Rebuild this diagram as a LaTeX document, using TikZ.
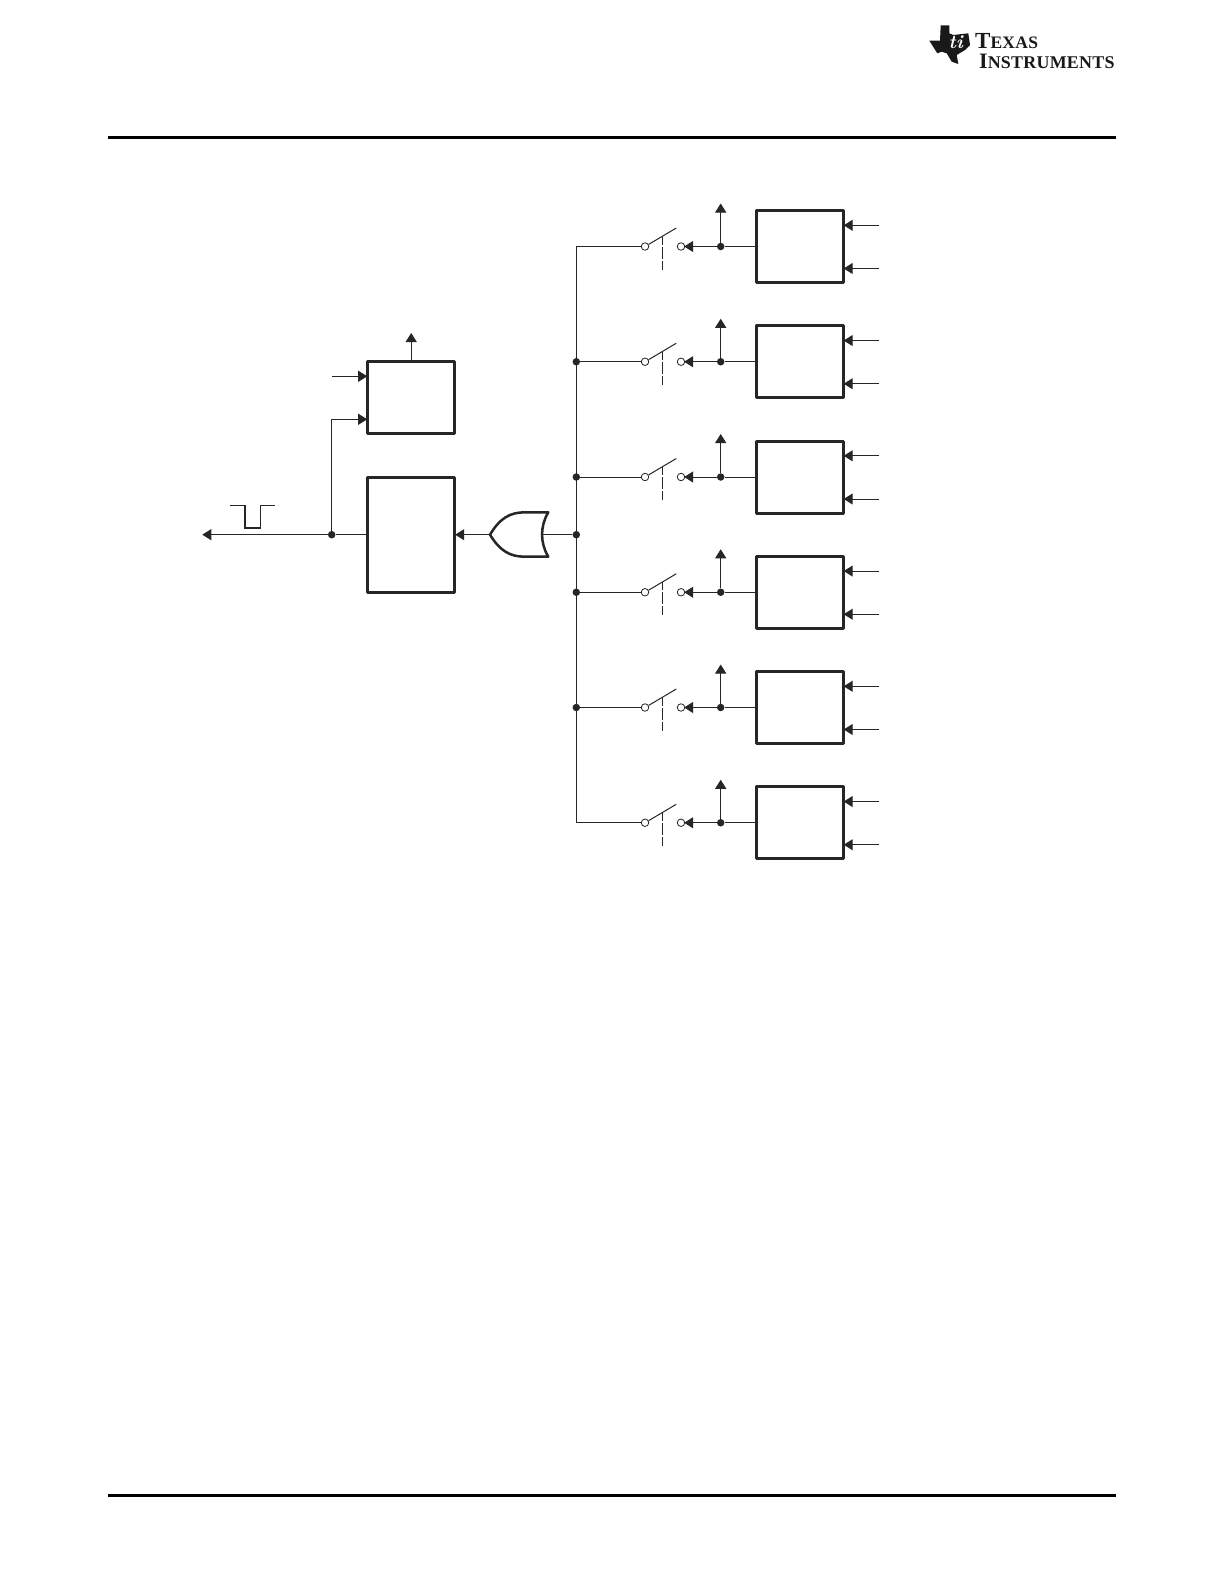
\documentclass[tikz,border=0pt]{standalone}
\usepackage{fontspec}
\newfontfamily\logofont[LetterSpace=1.5]{Liberation Serif}
\usetikzlibrary{arrows.meta}
\tikzset{
	blockbox/.style={draw=black!85,line width=3pt,line join=round,minimum width=87pt,fill=white},
	sigline/.style={draw=black!85,line width=1pt},
	sigarrow/.style={sigline,-{Triangle[length=9pt,width=11pt]},shorten >=-1pt},
	jdot/.style={circle,fill=black!85,inner sep=0pt,minimum size=7.5pt},
	opendot/.style={circle,draw=black!85,fill=white,line width=0.8pt,inner sep=0pt,minimum size=7.5pt},
	logotext/.style={anchor=base west,inner sep=0pt,text=black!90}
}
\begin{document}
\begin{tikzpicture}[x=1pt,y=-1pt]
	\useasboundingbox (0,0) rectangle (1224,1584);
	\fill[white] (0,0) rectangle (1224,1584);

	% Kopf- und Fusslinie
	\draw[line width=3pt] (108,137.7) -- (1116,137.7);
	\draw[line width=3pt] (108,1495) -- (1116,1495);

	% Logo
	\fill[black!90] (940.7,25.3) -- (949.3,25.3) -- (949.3,33.3) -- (953.3,35) -- (968.3,33.3) -- (970,45) -- (965,50) -- (956.7,55) -- (958.3,64) -- (951.7,61.7) -- (946.7,53.3) -- (941.7,51.7) -- (937.3,53.3) -- (929.3,40.7) -- (940,40.7) -- cycle;
	\node[logotext,text=white] (logoti) at (948.5,49) {\fontsize{19}{19}\selectfont\bfseries\itshape ti};
	\node[logotext] (logotexas) at (975,49) {\logofont\bfseries\fontsize{23}{23}\selectfont T\fontsize{17.5}{17.5}\selectfont EXAS};
	\node[logotext] (logoinst) at (979,68.5) {\logofont\bfseries\fontsize{22}{22}\selectfont I\fontsize{17.9}{17.9}\selectfont NSTRUMENTS};

	% Blöcke rechts
	\foreach \i [evaluate=\i as \rowy using 246.5+115.25*\i] in {0,...,5} {
		\node[blockbox,minimum height=72pt] (blk\i) at (799.7,\rowy) {};
		\coordinate (bus\i) at (576.3,\rowy);
		\node[jdot] (jn\i) at (720.7,\rowy) {};
		\node[opendot] (swb\i) at (681,\rowy) {};
		\node[opendot] (swa\i) at (645,\rowy) {};
		\coordinate (up\i) at (720.7,\rowy-42);
		\coordinate (ina\i) at (879,\rowy-21.2);
		\coordinate (inb\i) at (879,\rowy+22);
		\coordinate (blade\i) at (676.3,\rowy-18.5);
		\coordinate (dasha\i) at (662.3,\rowy-10);
		\coordinate (dashb\i) at (662.3,\rowy+23);
		\draw[sigline] (jn\i) -- (blk\i.west);
		\draw[sigarrow] (jn\i) -- (swb\i.east);
		\draw[sigarrow] (jn\i) -- (up\i);
		\draw[sigarrow] (ina\i) -- (ina\i -| blk\i.east);
		\draw[sigarrow] (inb\i) -- (inb\i -| blk\i.east);
		\draw[sigline] (swa\i.30) -- (blade\i);
		\draw[sigline,dash pattern=on 8pt off 2pt on 12pt off 2pt on 9pt] (dasha\i) -- (dashb\i);
	}

	% Sammelleitung
	\draw[sigline] (swa0.west) -- (bus0) -- (bus5) -- (swa5.west);
	\foreach \i in {1,...,4} {
		\node[jdot] (busdot\i) at (bus\i) {};
		\draw[sigline] (busdot\i) -- (swa\i.west);
	}
	\node[jdot] (busmid) at (576.3,534.7) {};

	% ODER-Gatter
	\coordinate (orin) at (490,534.7);
	\coordinate (orout) at (541.7,534.7);
	\draw[draw=black!85,line width=2.5pt,line join=round] (orin) .. controls (500,518) and (510,512.3) .. (525,512.3) -- (548.3,512.3) .. controls (540,526) and (540,543) .. (548.3,556.7) -- (525,556.7) .. controls (510,556.7) and (500,551) .. cycle;
	\draw[sigline] (busmid) -- (orout);

	% Blöcke links
	\node[blockbox,minimum height=72pt] (upper) at (411.2,397.3) {};
	\node[blockbox,minimum height=115.4pt] (lower) at (411.2,535) {};
	\draw[sigarrow] (orin) -- (lower.east |- orin);
	\node[jdot] (outdot) at (331.7,534.7) {};
	\coordinate (outend) at (203.3,534.7);
	\coordinate (upin) at (331.7,376.3);
	\coordinate (upout) at (411.2,334);
	\draw[sigline] (lower.west |- outdot) -- (outdot);
	\draw[sigarrow] (outdot) -- (outend);
	\draw[sigarrow] (outdot) |- (upper.west |- 0,419.3);
	\draw[sigarrow] (upin) -- (upin -| upper.west);
	\draw[sigarrow] (upper.north) -- (upout);

	% Impuls
	\draw[sigline,line width=1.5pt] (230,505.7) -- (245,505.7) -- (245,528) -- (260.7,528) -- (260.7,505.7) -- (274.7,505.7);
\end{tikzpicture}
\end{document}
